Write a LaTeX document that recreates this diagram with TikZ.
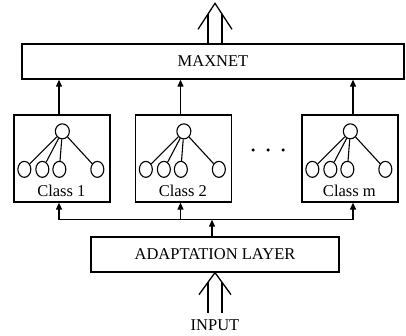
\documentclass[tikz,border=0pt]{standalone}
\usepackage{fontspec}
\setmainfont{Liberation Serif}
\usetikzlibrary{arrows.meta,calc,shapes.geometric}
\begin{document}
\begin{tikzpicture}[x=1pt,y=-1pt,
  every node/.style={font=\fontsize{16.5}{18}\selectfont},
  layer/.style={draw,line width=1.3pt,inner sep=0pt,minimum height=35pt},
  classbox/.style={draw,line width=1.3pt,inner sep=0pt,minimum width=96pt,minimum height=87pt},
  neuron/.style={draw,ellipse,line width=1.1pt,inner sep=0pt,minimum width=13pt,minimum height=16pt},
  topneuron/.style={draw,ellipse,line width=1.1pt,inner sep=0pt,minimum width=14pt,minimum height=15pt},
  link/.style={line width=1.1pt},
  arr/.style={line width=1.1pt,-{Triangle[length=7pt,width=6pt]}},
  bus/.style={line width=1.1pt},
  fat/.style={line width=1.3pt}]
\useasboundingbox (0,0) rectangle (406,336);
% layers
\node[layer,minimum width=382pt] (maxnet) at (213,61.5) {MAXNET};
\node[layer,minimum width=248pt] (adapt) at (215,254.5) {ADAPTATION LAYER};
% class boxes
\foreach \n/\x/\lab in {1/62/Class 1, 2/183.5/Class 2, m/350/Class m}{
  \node[classbox] (b\n) at (\x,158.5) {};
  \node[topneuron] (t\n) at ($(b\n.north west)+(49,17)$) {};
  \node[neuron] (n\n a) at ($(b\n.north west)+(11,55)$) {};
  \node[neuron] (n\n b) at ($(b\n.north west)+(29,55)$) {};
  \node[neuron] (n\n c) at ($(b\n.north west)+(46,55)$) {};
  \node[neuron] (n\n d) at ($(b\n.north west)+(84,55)$) {};
  \node (l\n) at ($(b\n.north west)+(48,77)$) {\lab};
  \foreach \k in {a,b,c,d}{\draw[link] (t\n) -- (n\n\k);}
}
% dots
\node[circle,fill,inner sep=0pt,minimum size=3.5pt] (d1) at (253,150) {};
\node[circle,fill,inner sep=0pt,minimum size=3.5pt] (d2) at (268,150) {};
\node[circle,fill,inner sep=0pt,minimum size=3.5pt] (d3) at (283,150) {};
% arrows to maxnet
\coordinate (u1) at ($(b1.north)+(-3,0)$);
\coordinate (u2) at ($(b2.north)+(-3,0)$);
\coordinate (um) at ($(bm.north)+(3,0)$);
\draw[arr] (u1) -- (u1 |- maxnet.south);
\draw[arr] (u2) -- (u2 |- maxnet.south);
\draw[arr] (um) -- (um |- maxnet.south);
% bus
\coordinate (busL) at ($(b1.south)+(-3,17)$);
\coordinate (busR) at ($(bm.south)+(3,17)$);
\coordinate (bus2) at ($(b2.south)+(-3,17)$);
\draw[bus] (busL) -- (busR);
\draw[arr] (busL) -- (busL |- b1.south);
\draw[arr] (bus2) -- (bus2 |- b2.south);
\draw[arr] (busR) -- (busR |- bm.south);
\coordinate (ain) at ($(adapt.north)+(-3,0)$);
\draw[arr] (ain) -- (ain |- busL);
% output double arrow
\coordinate (oapex) at ($(maxnet.north)+(2,-40)$);
\coordinate (oL) at ($(oapex)+(-17,26)$);
\coordinate (oR) at ($(oapex)+(17,26)$);
\coordinate (osL) at ($(oapex)!0.41!(oL)$);
\coordinate (osR) at ($(oapex)!0.41!(oR)$);
\draw[fat] (oL) -- (oapex) -- (oR);
\draw[fat] (osL) -- (osL |- maxnet.north);
\draw[fat] (osR) -- (osR |- maxnet.north);
% input double arrow
\coordinate (iapex) at (adapt.south);
\coordinate (iL) at ($(iapex)+(-16,22)$);
\coordinate (iR) at ($(iapex)+(16,22)$);
\coordinate (isL) at ($(iapex)!0.44!(iL)$);
\coordinate (isR) at ($(iapex)!0.44!(iR)$);
\coordinate (ibot) at ($(iapex)+(0,40)$);
\draw[fat] (iL) -- (iapex) -- (iR);
\draw[fat] (isL) -- (isL |- ibot);
\draw[fat] (isR) -- (isR |- ibot);
\node (input) at (215,325) {INPUT};
\end{tikzpicture}
\end{document}
